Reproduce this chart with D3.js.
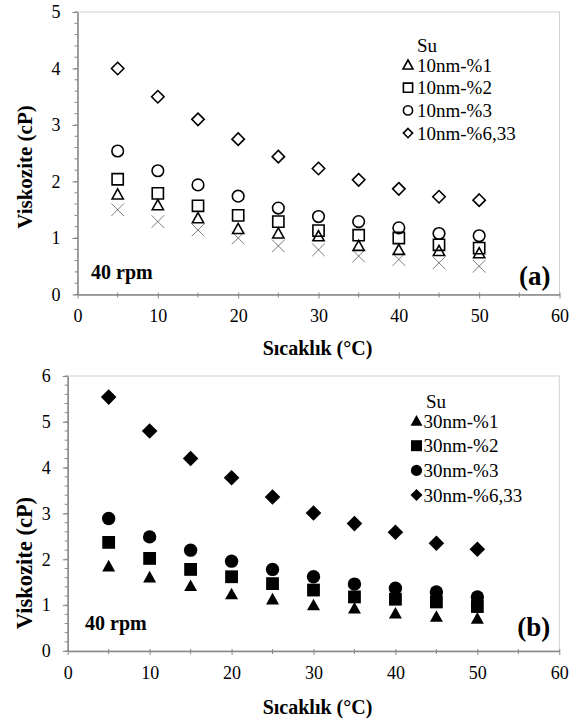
<!DOCTYPE html>
<html>
<head>
<meta charset="utf-8">
<script src="https://cdn.jsdelivr.net/npm/d3@7"></script>
<style>
  body { margin: 0; background: #fff; }
</style>
</head>
<body>
<script>
// temperatures (°C)
var temps = [5, 10, 15, 20, 25, 30, 35, 40, 45, 50];

// (a) 10 nm
var suA      = [1.50, 1.29, 1.14, 1.00, 0.86, 0.79, 0.68, 0.62, 0.56, 0.50];
var a10nm1   = [1.77, 1.58, 1.35, 1.16, 1.08, 1.03, 0.86, 0.79, 0.77, 0.73];
var a10nm2   = [2.04, 1.79, 1.57, 1.40, 1.29, 1.13, 1.05, 1.00, 0.88, 0.82];
var a10nm3   = [2.54, 2.19, 1.94, 1.74, 1.53, 1.38, 1.29, 1.18, 1.08, 1.04];
var a10nm633 = [4.00, 3.50, 3.10, 2.75, 2.44, 2.23, 2.03, 1.87, 1.73, 1.67];

// (b) 30 nm
var b30nm1   = [1.85, 1.61, 1.42, 1.24, 1.13, 1.00, 0.93, 0.82, 0.75, 0.71];
var b30nm2   = [2.37, 2.02, 1.78, 1.62, 1.47, 1.33, 1.18, 1.13, 1.07, 0.97];
var b30nm3   = [2.89, 2.49, 2.20, 1.96, 1.78, 1.62, 1.46, 1.37, 1.29, 1.18];
var b30nm633 = [5.54, 4.80, 4.20, 3.78, 3.36, 3.01, 2.78, 2.59, 2.35, 2.22];

var xTicks = [0, 10, 20, 30, 40, 50, 60];
var yTicksA = [0, 1, 2, 3, 4, 5];
var yTicksB = [0, 1, 2, 3, 4, 5, 6];

var W = 577, H = 724;
var FONT = "'Liberation Serif', 'Times New Roman', serif";
var svg = d3.select("body").append("svg").attr("width", W).attr("height", H);

var axisColor = "#868686";

// marker outlines, a = half size
function shapePath(kind, a) {
    var p = d3.path();
    if (kind === "triangle") {
        p.moveTo(0, -a); p.lineTo(a, a * 0.8); p.lineTo(-a, a * 0.8); p.closePath();
    } else if (kind === "square") {
        p.rect(-a, -a, 2 * a, 2 * a);
    } else if (kind === "circle") {
        p.moveTo(a, 0); p.arc(0, 0, a, 0, 2 * Math.PI); p.closePath();
    } else if (kind === "diamond") {
        p.moveTo(0, -a); p.lineTo(a, 0); p.lineTo(0, a); p.lineTo(-a, 0); p.closePath();
    } else if (kind === "x") {
        p.moveTo(-a, -a); p.lineTo(a, a); p.moveTo(a, -a); p.lineTo(-a, a);
    }
    return p.toString();
}

function drawChart(opt) {
    var g = svg.append("g");
    var x = d3.scaleLinear().domain([0, 60]).range([opt.left, opt.right]);
    var y = d3.scaleLinear().domain([0, opt.yMax]).range([opt.bottom, opt.top]);

    // plot frame
    g.append("rect")
        .attr("x", opt.left).attr("y", opt.top)
        .attr("width", opt.right - opt.left).attr("height", opt.bottom - opt.top)
        .attr("fill", "none").attr("stroke", "#d0d0d0").attr("stroke-width", 1);

    // minor ticks on y
    var yMinor = d3.range(0, opt.yMax + 0.001, 0.2);
    g.append("g").selectAll("line").data(yMinor).enter().append("line")
        .attr("x1", opt.left - 3).attr("x2", opt.left)
        .attr("y1", function(d) { return y(d); }).attr("y2", function(d) { return y(d); })
        .attr("stroke", axisColor).attr("stroke-width", 1);

    var yAxis = d3.axisLeft(y).tickValues(opt.yTicks).tickSizeInner(5).tickSizeOuter(0)
        .tickPadding(12).tickFormat(d3.format("d"));
    var ya = g.append("g").attr("transform", "translate(" + opt.left + ",0)").call(yAxis);
    ya.select(".domain").attr("stroke", axisColor).attr("stroke-width", 1.5);
    ya.selectAll(".tick line").attr("stroke", axisColor).attr("stroke-width", 1);
    ya.selectAll(".tick text").style("font-family", FONT).style("font-size", "18px").attr("fill", "#000");

    // x axis, minor ticks at 5s
    var xMinor = d3.range(5, 60, 10);
    g.append("g").selectAll("line").data(xMinor).enter().append("line")
        .attr("x1", function(d) { return x(d); }).attr("x2", function(d) { return x(d); })
        .attr("y1", opt.bottom - 2).attr("y2", opt.bottom + 3)
        .attr("stroke", axisColor).attr("stroke-width", 1);

    var xAxis = d3.axisBottom(x).tickValues(xTicks).tickSizeInner(4).tickSizeOuter(0)
        .tickPadding(11).tickFormat(d3.format("d"));
    var xa = g.append("g").attr("transform", "translate(0," + opt.bottom + ")").call(xAxis);
    xa.select(".domain").attr("stroke", axisColor).attr("stroke-width", 1.5);
    xa.selectAll(".tick line").attr("stroke", axisColor).attr("stroke-width", 1).attr("y1", -2);
    xa.selectAll(".tick text").style("font-family", FONT).style("font-size", "18px").attr("fill", "#000");

    // axis titles
    g.append("text")
        .attr("x", 317.5).attr("y", opt.xTitleY)
        .attr("text-anchor", "middle")
        .style("font-family", FONT).style("font-size", "20px").style("font-weight", "bold")
        .text("Sıcaklık (°C)");
    g.append("text")
        .attr("transform", "translate(32," + opt.yTitleC + ") rotate(-90)")
        .attr("text-anchor", "middle")
        .style("font-family", FONT).style("font-size", opt.yTitleSize).style("font-weight", "bold")
        .text("Viskozite (cP)");

    // series
    opt.series.forEach(function(s) {
        g.append("g").selectAll("path").data(s.values).enter().append("path")
            .attr("d", shapePath(s.shape, s.size))
            .attr("transform", function(d, i) {
                return "translate(" + x(temps[i]) + "," + y(d) + ")";
            })
            .attr("fill", s.filled ? "#000" : "none")
            .attr("stroke", s.shape === "x" ? "#444" : "#000")
            .attr("stroke-width", s.shape === "x" ? 0.7 : (s.filled ? 0 : 1.6));
    });

    // legend
    var lg = g.append("g");
    lg.append("text").attr("x", opt.legSuX).attr("y", opt.legSuY).attr("dy", "0.35em")
        .style("font-family", FONT).style("font-size", "19px").text("Su");
    opt.series.filter(function(s) { return s.label; }).forEach(function(s, i) {
        var cy = opt.legY + i * opt.legStep;
        lg.append("path")
            .attr("d", shapePath(s.shape, s.legSize))
            .attr("transform", "translate(" + opt.legX + "," + cy + ")")
            .attr("fill", s.filled ? "#000" : "none")
            .attr("stroke", "#000").attr("stroke-width", s.filled ? 0 : 1.6);
        lg.append("text").attr("x", opt.legX + opt.legGap).attr("y", cy).attr("dy", "0.35em")
            .style("font-family", FONT).style("font-size", "19px").text(s.label);
    });

    g.append("text").attr("x", opt.rpmX).attr("y", opt.rpmY).attr("dy", "0.35em")
        .style("font-family", FONT).style("font-size", "20px").style("font-weight", "bold").text("40 rpm");
    g.append("text").attr("x", opt.right - 9).attr("y", opt.tagY).attr("dy", "0.35em")
        .attr("text-anchor", "end")
        .style("font-family", FONT).style("font-size", "27px").style("font-weight", "bold").text(opt.tag);
}

drawChart({
    left: 77.5, right: 559.5, top: 12, bottom: 294.5, yMax: 5, yTicks: yTicksA,
    xTitleY: 355, yTitleC: 167, yTitleSize: "21px",
    legSuX: 417, legSuY: 45, legX: 408, legGap: 9, legY: 65, legStep: 22.7,
    rpmX: 91, rpmY: 272, tag: "(a)", tagY: 276,
    series: [
        {values: suA, shape: "x", size: 6.3, filled: false},
        {values: a10nm1, shape: "triangle", size: 5.6, legSize: 5, filled: false, label: "10nm-%1"},
        {values: a10nm2, shape: "square", size: 5.6, legSize: 4.6, filled: false, label: "10nm-%2"},
        {values: a10nm3, shape: "circle", size: 5.8, legSize: 4.6, filled: false, label: "10nm-%3"},
        {values: a10nm633, shape: "diamond", size: 6.2, legSize: 4.6, filled: false, label: "10nm-%6,33"}
    ]
});

drawChart({
    left: 67.7, right: 559.3, top: 376, bottom: 651, yMax: 6, yTicks: yTicksB,
    xTitleY: 714, yTitleC: 563, yTitleSize: "22.5px",
    legSuX: 426, legSuY: 401, legX: 416.5, legGap: 7, legY: 421, legStep: 24.7,
    rpmX: 85, rpmY: 623, tag: "(b)", tagY: 627,
    series: [
        {values: b30nm1, shape: "triangle", size: 6.5, legSize: 6, filled: true, label: "30nm-%1"},
        {values: b30nm2, shape: "square", size: 6.4, legSize: 5.5, filled: true, label: "30nm-%2"},
        {values: b30nm3, shape: "circle", size: 6.7, legSize: 5.6, filled: true, label: "30nm-%3"},
        {values: b30nm633, shape: "diamond", size: 7.8, legSize: 6, filled: true, label: "30nm-%6,33"}
    ]
});
</script>
</body>
</html>
